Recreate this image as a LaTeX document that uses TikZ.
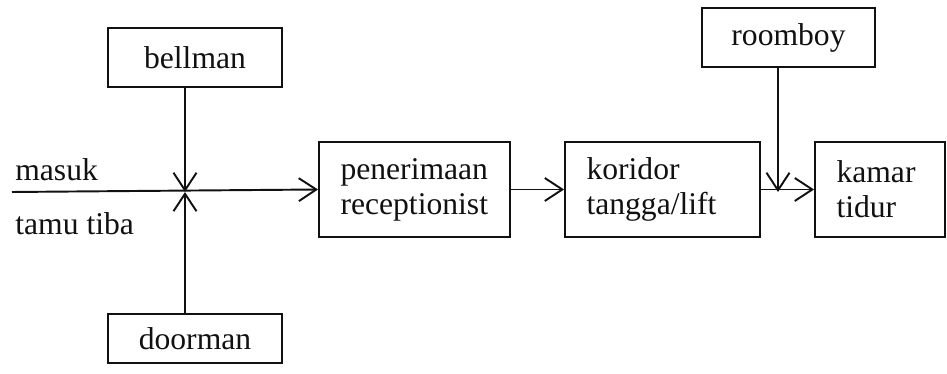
\documentclass[tikz,border=0pt]{standalone}
\usepackage{fontspec}
\setmainfont{Liberation Serif}
\usetikzlibrary{arrows.meta,positioning,calc}
\definecolor{ink}{HTML}{111111}
\tikzset{
  every node/.append style = {text=ink, font=\fontsize{18}{20}\selectfont},
  % --- boxes ---------------------------------------------------------------
  onebox/.style  = {draw=ink, line width=1.1pt, rectangle, inner sep=0pt,
                    minimum width=3.48cm, minimum height=1.18cm},
  twobox/.style  = {draw=ink, line width=1.1pt, rectangle, align=left,
                    inner xsep=0.43cm, inner ysep=0pt, minimum height=1.9cm},
  % --- relations -----------------------------------------------------------
  flow/.style    = {draw=ink, line width=1.1pt,
                    -{Straight Barb[length=3.5mm,width=4.6mm,line width=1.1pt]}},
  % --- labels --------------------------------------------------------------
  sidelbl/.style = {anchor=base west, inner sep=0pt},
}

\begin{document}
\begin{tikzpicture}[x=0.02cm, y=-0.02cm]
\useasboundingbox (0,0) rectangle (947,374);

% ============================ staff boxes ==================================
\node[onebox] (bellman) at (195,57.5)  {bellman};
\node[onebox, minimum height=0.98cm] (doorman) at (195,338.5) {doorman};
\node[onebox, minimum width=3.46cm] (roomboy) at (788.5,37.5) {roomboy};

% ============================ the route ====================================
\node[twobox, text width=2.96cm] (terima)   at (414.5,189.5)
     {penerimaan\\receptionist};
\node[twobox, text width=3.04cm] (koridor)  at (662.5,189.5)
     {koridor\\tangga/lift};
\node[twobox, text width=1.74cm] (kamar)    at (880,189.5)
     {kamar\\tidur};

\coordinate (masuk) at (12,192);
\coordinate (cross) at (185,192);
\coordinate (join)  at (778,192);

\node[sidelbl] (lblmasuk) at (15,181) {masuk};
\node[sidelbl] (lbltamu)  at (15,235) {tamu tiba};

% ============================ connectors ===================================
\draw[flow] (masuk) -- (terima.west);
\draw[flow] (bellman.south -| cross) -- (cross);
\draw[flow] (doorman.north -| cross) -- (cross);
\draw[flow] (terima.east) -- (koridor.west);
\draw[flow] (koridor.east) -- (kamar.west);
\draw[flow] (roomboy.south -| join) -- (join);

\end{tikzpicture}
\end{document}
